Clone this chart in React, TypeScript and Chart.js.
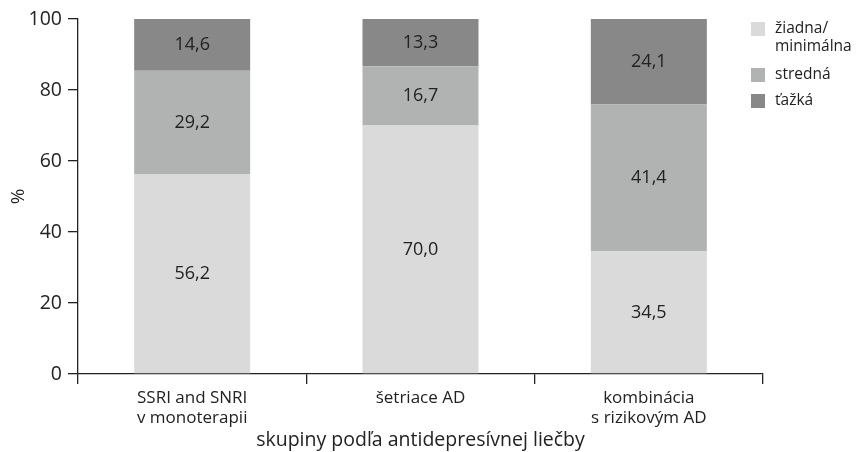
import React, { useEffect, useRef } from "react";
import { Chart, registerables } from "chart.js";

Chart.register(...registerables);

const categories: string[][] = [
  ["SSRI and SNRI", "v monoterapii"],
  ["šetriace AD"],
  ["kombinácia", "s rizikovým AD"],
];
const seriesNames: string[][] = [["žiadna/", "minimálna"], ["stredná"], ["ťažká"]];
const noneMinimal: number[] = [56.2, 70.0, 34.5];
const moderate: number[] = [29.2, 16.7, 41.4];
const severe: number[] = [14.6, 13.3, 24.1];
const yTicks: number[] = [0, 20, 40, 60, 80, 100];
const xTitle = "skupiny podľa antidepresívnej liečby";
const yTitle = "%";

const colors = ["#d9dad9", "#b1b3b3", "#878887"];
const FONT = "'Open Sans', 'Noto Sans', sans-serif";
const AXIS = "#222222";

const valueLabels = {
  id: "valueLabels",
  afterDatasetsDraw(chart: any) {
    const ctx = chart.ctx;
    ctx.save();
    ctx.font = `18px ${FONT}`;
    ctx.fillStyle = "#222222";
    ctx.textAlign = "center";
    ctx.textBaseline = "middle";
    chart.data.datasets.forEach((ds: any, di: number) => {
      const meta = chart.getDatasetMeta(di);
      meta.data.forEach((el: any, i: number) => {
        const v = ds.data[i] as number;
        const y = (el.y + el.base) / 2;
        ctx.fillText(v.toFixed(1).replace(".", ","), el.x, y);
      });
    });
    ctx.restore();
  },
};

const legendPlugin = {
  id: "customLegend",
  afterDraw(chart: any) {
    const ctx = chart.ctx;
    ctx.save();
    ctx.font = `15.5px ${FONT}`;
    ctx.textAlign = "left";
    ctx.textBaseline = "middle";
    const lineH = 17.5;
    const sqX = 751;
    const txtX = 775;
    const starts = [29, 75, 101];
    seriesNames.forEach((lines, i) => {
      const y0 = starts[i];
      ctx.fillStyle = colors[i];
      ctx.fillRect(sqX, y0 - 7, 14, 14);
      ctx.fillStyle = "#222222";
      lines.forEach((ln, j) => ctx.fillText(ln, txtX, y0 + j * lineH));
    });
    ctx.restore();
  },
};

export default function App() {
  const ref = useRef<HTMLCanvasElement>(null);
  useEffect(() => {
    if (!ref.current) return;
    const chart = new Chart(ref.current, {
      type: "bar",
      data: {
        labels: categories,
        datasets: [
          { label: "žiadna/minimálna", data: noneMinimal, backgroundColor: colors[0] },
          { label: "stredná", data: moderate, backgroundColor: colors[1] },
          { label: "ťažká", data: severe, backgroundColor: colors[2] },
        ].map((d) => ({ ...d, barPercentage: 0.508, categoryPercentage: 1, borderWidth: 0 })),
      },
      options: {
        responsive: false,
        animation: false,
        layout: { padding: { left: 0, right: 95, top: 19, bottom: 0 } },
        plugins: { legend: { display: false }, tooltip: { enabled: false } },
        scales: {
          x: {
            stacked: true,
            border: { display: true, color: AXIS, width: 1.3 },
            grid: { drawOnChartArea: false, drawTicks: true, tickLength: 10, color: AXIS, lineWidth: 1.3 },
            ticks: { color: "#222222", font: { family: FONT, size: 17, lineHeight: 1.18 }, padding: 4, maxRotation: 0, autoSkip: false },
            title: { display: true, text: xTitle, color: "#222222", font: { family: FONT, size: 19.5 }, padding: { top: 0, bottom: 0 } },
            afterFit(scale: any) { scale.height = 78; },
          },
          y: {
            stacked: true,
            min: 0,
            max: 100,
            afterBuildTicks(scale: any) { scale.ticks = yTicks.map((v) => ({ value: v })); },
            border: { display: true, color: AXIS, width: 1.3 },
            grid: { drawOnChartArea: false, drawTicks: true, tickLength: 10, color: AXIS, lineWidth: 1.3 },
            ticks: { color: "#222222", font: { family: FONT, size: 19.5 }, padding: 6 },
            title: { display: true, text: yTitle, color: "#222222", font: { family: FONT, size: 19 }, padding: { top: 7, bottom: 0 } },
            afterFit(scale: any) { scale.width = 78; },
          },
        },
      },
      plugins: [valueLabels, legendPlugin],
    });
    return () => chart.destroy();
  }, []);
  return (
    <div style={{ position: "absolute", left: 0, top: 0, width: 858, height: 452, background: "#fff" }}>
      <canvas ref={ref} width={858} height={452} />
    </div>
  );
}
